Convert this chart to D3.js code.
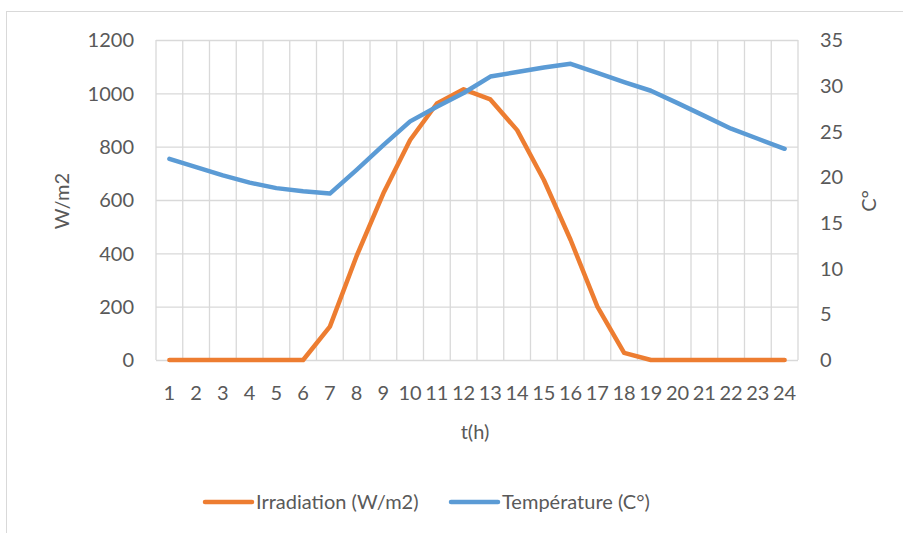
<!DOCTYPE html>
<meta charset="utf-8">
<html>
<style>
 body { margin:0; background:#fff; }
 text { font-family: Lato, "Open Sans", sans-serif; fill:#595959; }
</style>
<script src="https://d3js.org/d3.v7.min.js"></script>
<svg width="903" height="533"></svg>
<script>
// data
const hours = [1,2,3,4,5,6,7,8,9,10,11,12,13,14,15,16,17,18,19,20,21,22,23,24];
const irradiation = [0,0,0,0,0,0,125,390,625,825,962,1015,977,862,675,450,200,27,0,0,0,0,0,0];
const temperature = [22.0,21.1,20.2,19.4,18.8,18.45,18.2,20.8,23.5,26.1,27.7,29.2,31.0,31.5,32.0,32.4,31.4,30.4,29.45,28.1,26.7,25.3,24.2,23.1];
const leftTicks = [0,200,400,600,800,1000,1200];
const rightTicks = [0,5,10,15,20,25,30,35];

const svg = d3.select('svg');
const plotLeft = 156, plotRight = 798, plotTop = 40, plotBottom = 360;
const fs = 20;

// outer chart border
svg.append('rect')
	.attr('x',6.5).attr('y',11.5)
	.attr('width',905).attr('height',530)
	.attr('fill','none').attr('stroke','#d9d9d9').attr('stroke-width',1);

const x = d3.scaleBand().domain(hours).range([plotLeft,plotRight]);
const yL = d3.scaleLinear().domain([0,1200]).range([plotBottom,plotTop]);
const yR = d3.scaleLinear().domain([0,35]).range([plotBottom,plotTop]);

// horizontal gridlines
svg.append('g').selectAll('line').data(leftTicks).join('line')
	.attr('x1',plotLeft).attr('x2',plotRight)
	.attr('y1',d=>yL(d)+0.5).attr('y2',d=>yL(d)+0.5)
	.attr('stroke','#d9d9d9').attr('stroke-width',1.3);

// vertical gridlines at category edges
const edges = hours.map(h=>x(h)).concat([plotRight]);
svg.append('g').selectAll('line').data(edges).join('line')
	.attr('x1',d=>d).attr('x2',d=>d)
	.attr('y1',plotTop).attr('y2',plotBottom)
	.attr('stroke','#d9d9d9').attr('stroke-width',1.3);

// left axis labels
svg.append('g').selectAll('text').data(leftTicks).join('text')
	.attr('x',134).attr('y',d=>yL(d)).attr('dy','0.36em')
	.attr('text-anchor','end').attr('font-size',fs)
	.text(d=>d);

// right axis labels
svg.append('g').selectAll('text').data(rightTicks).join('text')
	.attr('x',820).attr('y',d=>yR(d)).attr('dy','0.36em')
	.attr('text-anchor','start').attr('font-size',fs)
	.text(d=>d);

// x labels
svg.append('g').selectAll('text').data(hours).join('text')
	.attr('x',d=>x(d)+x.bandwidth()/2).attr('y',393).attr('dy','0.36em')
	.attr('text-anchor','middle').attr('font-size',fs)
	.text(d=>d);

// axis titles
svg.append('text').attr('x',475).attr('y',432).attr('dy','0.36em')
	.attr('text-anchor','middle').attr('font-size',fs).text('t(h)');
svg.append('text').attr('transform','translate(62,201) rotate(-90)').attr('dy','0.36em')
	.attr('text-anchor','middle').attr('font-size',fs).text('W/m2');
svg.append('text').attr('transform','translate(869,201) rotate(-90)').attr('dy','0.36em')
	.attr('text-anchor','middle').attr('font-size',fs).text('C°');

const cx = d=>x(d)+x.bandwidth()/2;

// series
svg.append('path')
	.datum(hours)
	.attr('fill','none').attr('stroke','#ED7D31').attr('stroke-width',4.5)
	.attr('stroke-linejoin','round').attr('stroke-linecap','round')
	.attr('d', d3.line().x(cx).y((d,i)=>yL(irradiation[i])));

svg.append('path')
	.datum(hours)
	.attr('fill','none').attr('stroke','#5B9BD5').attr('stroke-width',4.5)
	.attr('stroke-linejoin','round').attr('stroke-linecap','round')
	.attr('d', d3.line().x(cx).y((d,i)=>yR(temperature[i])));

// legend
const legend = [
	{name:'Irradiation (W/m2)', color:'#ED7D31', x:205},
	{name:'Température (C°)', color:'#5B9BD5', x:451}
];
const lg = svg.append('g').selectAll('g').data(legend).join('g')
	.attr('transform',d=>`translate(${d.x},502)`);
lg.append('line')
	.attr('x1',0).attr('x2',47).attr('y1',0).attr('y2',0)
	.attr('stroke',d=>d.color).attr('stroke-width',4.5).attr('stroke-linecap','round');
lg.append('text')
	.attr('x',51).attr('y',0).attr('dy','0.36em').attr('font-size',fs)
	.text(d=>d.name);
</script>
</html>
